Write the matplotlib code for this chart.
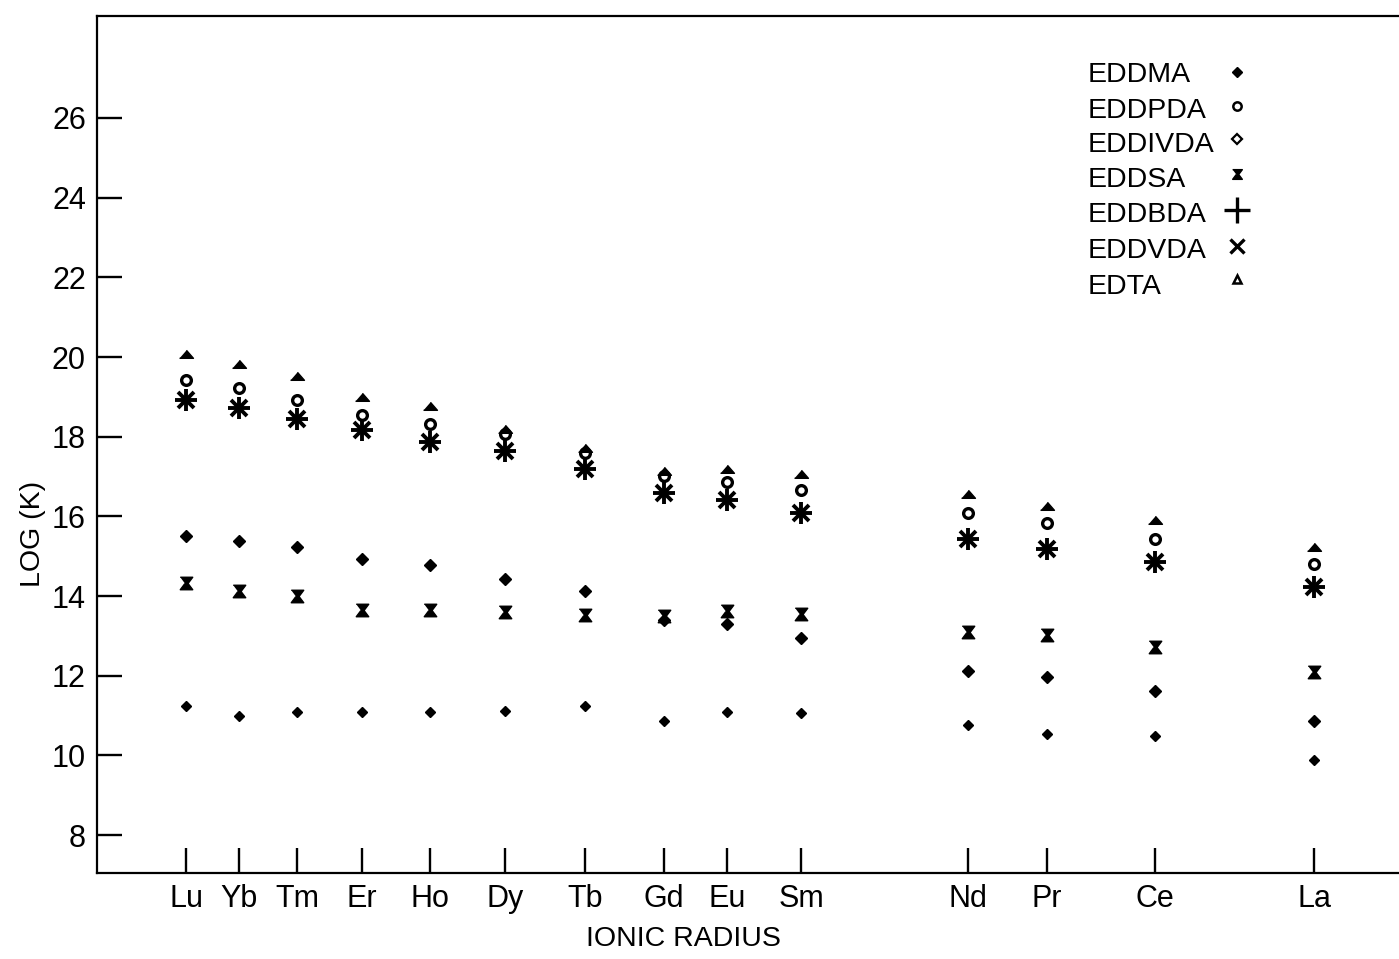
import matplotlib
matplotlib.use('Agg')
import matplotlib.pyplot as plt

plt.rcParams['font.family'] = ['Liberation Sans', 'DejaVu Sans']

# lanthanides along the ionic-radius axis (positions)
elements = ['Lu', 'Yb', 'Tm', 'Er', 'Ho', 'Dy', 'Tb', 'Gd', 'Eu', 'Sm', 'Nd', 'Pr', 'Ce', 'La']
x_pos = [1.86, 2.39, 2.97, 3.62, 4.30, 5.05, 5.85, 6.64, 7.27, 8.01, 9.68, 10.47, 11.55, 13.14]

# log K values
edta = [20.07, 19.83, 19.52, 18.99, 18.76, 18.20, 17.72, 17.15, 17.20, 17.07, 16.57, 16.27, 15.91, 15.24]
eddpda = [19.43, 19.23, 18.91, 18.54, 18.31, 18.06, 17.60, 17.02, 16.86, 16.67, 16.08, 15.83, 15.44, 14.81]
eddbda = [18.91, 18.73, 18.45, 18.16, 17.86, 17.63, 17.20, 16.60, 16.40, 16.08, 15.44, 15.19, 14.85, 14.22]
eddvda = [18.91, 18.73, 18.45, 18.16, 17.86, 17.63, 17.20, 16.60, 16.40, 16.08, 15.44, 15.19, 14.85, 14.22]
eddivda = [15.52, 15.39, 15.23, 14.93, 14.77, 14.44, 14.14, 13.40, 13.30, 12.96, 12.13, 11.98, 11.61, 10.87]
eddsa = [14.33, 14.12, 14.01, 13.64, 13.64, 13.61, 13.53, 13.50, 13.62, 13.55, 13.09, 13.03, 12.71, 12.09]
eddma = [11.25, 11.00, 11.08, 11.08, 11.08, 11.12, 11.25, 10.87, 11.10, 11.07, 10.77, 10.55, 10.49, 9.88]

y_ticks = [8, 10, 12, 14, 16, 18, 20, 22, 24, 26]

hourglass = [(-1, 1), (1, 1), (0.25, 0), (1, -1), (-1, -1), (-0.25, 0)]
flat_tri = [(-1, -0.55), (1, -0.55), (0, 0.6)]

styles = {
    'EDDMA': dict(marker='D', ms=5.5, color='k', ls='none'),
    'EDDPDA': dict(marker='o', ms=7, mfc='white', mec='k', mew=2.4, ls='none'),
    'EDDIVDA': dict(marker='D', ms=6.3, color='k', ls='none'),
    'EDDSA': dict(marker=hourglass, ms=9, color='k', ls='none'),
    'EDDBDA': dict(marker='+', ms=16.5, mew=2.8, color='k', ls='none'),
    'EDDVDA': dict(marker='x', ms=12, mew=2.8, color='k', ls='none'),
    'EDTA': dict(marker=flat_tri, ms=10, color='k', ls='none'),
}
series = {
    'EDDMA': eddma, 'EDDPDA': eddpda, 'EDDIVDA': eddivda, 'EDDSA': eddsa,
    'EDDBDA': eddbda, 'EDDVDA': eddvda, 'EDTA': edta,
}

fig = plt.figure(figsize=(13.99, 9.59), dpi=100)
W, H = 1399, 959
ax = fig.add_axes([97 / W, 1 - 873 / H, 1 - 97 / W, (873 - 16) / H])

for name, vals in series.items():
    ax.plot(x_pos, vals, **styles[name])

ax.set_xlim(0.97, 13.99)
ax.set_ylim(7.05, 28.56)
ax.set_xticks(x_pos)
ax.set_xticklabels(elements)
ax.set_yticks(y_ticks)
ax.spines['right'].set_visible(False)
for s in ['left', 'top', 'bottom']:
    ax.spines[s].set_linewidth(1.6)
ax.tick_params(direction='in', length=18, width=1.7, labelsize=22, pad=8)

ax.set_xlabel('IONIC RADIUS', fontsize=20.5)
ax.xaxis.set_label_coords((683 - 97) / 1302, (873 - 926) / 857)
ax.set_ylabel('LOG (K)', fontsize=20.5)
ax.yaxis.set_label_coords((46 - 97) / 1302, (873 - 534) / 857)

# legend drawn by hand: labels left aligned, markers in one column
leg_base = [82, 118, 152, 187, 222, 258, 294]
leg_mark = [72, 106, 139, 174, 210, 246, 279]
leg_sizes = {
    'EDDMA': dict(marker='D', ms=5),
    'EDDPDA': dict(ms=6, mew=1.8),
    'EDDIVDA': dict(marker='D', ms=5.5, mfc='white', mec='k', mew=1.6),
    'EDDSA': dict(ms=7),
    'EDDBDA': dict(ms=19, mew=2.4),
    'EDDVDA': dict(ms=10, mew=2.4),
    'EDTA': dict(marker='^', ms=6, mfc='white', mec='k', mew=1.8),
}
for i, name in enumerate(series):
    ax.text((1088 - 97) / 1302, (873 - leg_base[i]) / 857, name, transform=ax.transAxes,
            fontsize=20.5, va='baseline', ha='left')
    st = dict(styles[name])
    st.update(leg_sizes.get(name, {}))
    ax.plot([(1237 - 97) / 1302], [(873 - leg_mark[i]) / 857], transform=ax.transAxes,
            clip_on=False, **st)

fig.savefig('out.png', dpi=100)
